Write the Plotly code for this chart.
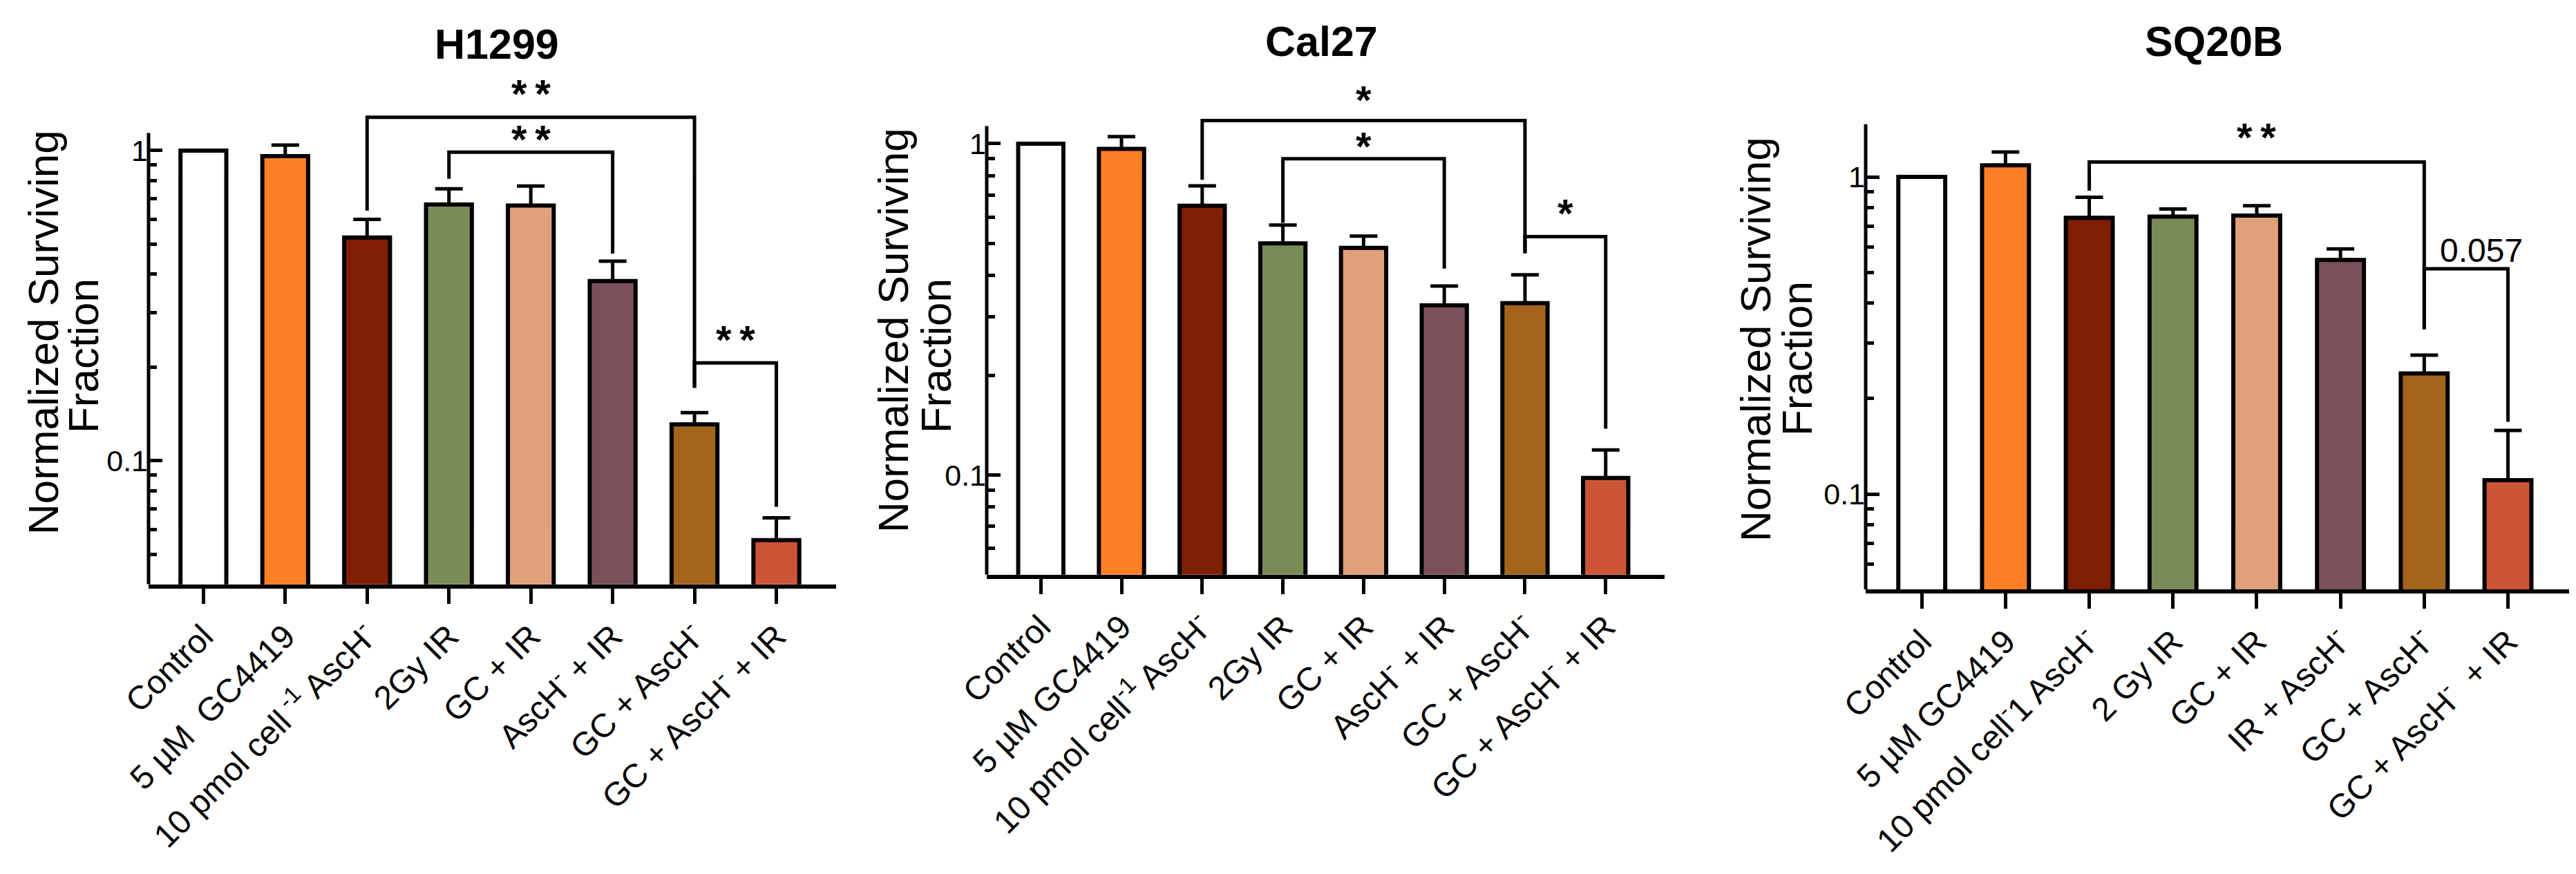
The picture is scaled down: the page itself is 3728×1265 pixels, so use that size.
import numpy as np
import plotly.graph_objects as go

W, H = 3728, 1265
FONT = 'Liberation Sans, Arial, sans-serif'

bar_colors = ['#FFFFFF', '#FF7F27', '#7F1E00', '#7B8B57', '#E0A07B', '#7A515B', '#A3641B', '#CC5535']

titles = ['H1299', 'Cal27', 'SQ20B']

# H1299
labels_h1299 = ['Control', '5 µM\u00a0 GC4419', '10 pmol cell<sup> -1</sup> AscH<sup>-</sup>', '2Gy IR', 'GC + IR',
                'AscH<sup>-</sup> + IR', 'GC + AscH<sup>-</sup>', 'GC + AscH<sup>-</sup> + IR']
sf_h1299 = [1.0, 0.96, 0.525, 0.67, 0.665, 0.38, 0.131, 0.0555]
sem_h1299 = [None, 0.082, 0.075, 0.083, 0.104, 0.06, 0.012, 0.010]
# (left bar, right bar, left end, top, right end)
brackets_h1299 = [(2, 6, 0.641, 1.28, 0.172), (3, 5, 0.811, 0.988, 0.466), (6, 7, 0.172, 0.207, 0.0711)]
marks_h1299 = [('**', 4, 1.55), ('**', 4, 1.10), ('**', 6.5, 0.249)]

# Cal27
labels_cal27 = ['Control', '5 µM GC4419', '10 pmol cell<sup>-1</sup> AscH<sup>-</sup>', '2Gy IR', 'GC + IR',
                'AscH<sup>-</sup> + IR', 'GC + AscH<sup>-</sup>', 'GC + AscH<sup>-</sup> + IR']
sf_cal27 = [1.0, 0.965, 0.65, 0.50, 0.485, 0.325, 0.33, 0.098]
sem_cal27 = [None, 0.085, 0.096, 0.068, 0.041, 0.047, 0.072, 0.021]
brackets_cal27 = [(2, 6, 0.778, 1.175, 0.467), (3, 5, 0.577, 0.901, 0.42), (6, 7, 0.467, 0.524, 0.138)]
marks_cal27 = [('*', 4, 1.37), ('*', 4, 0.995), ('*', 6.5, 0.625)]

# SQ20B
labels_sq20b = ['Control', '5 µM GC4419', '10 pmol cell<sup>-</sup>1 AscH<sup>-</sup>', '2 Gy IR', 'GC + IR',
                'IR + AscH<sup>-</sup>', 'GC + AscH<sup>-</sup>', 'GC + AscH<sup>-</sup>\u00a0 + IR']
sf_sq20b = [1.0, 1.088, 0.743, 0.749, 0.755, 0.547, 0.240, 0.1106]
sem_sq20b = [None, 0.11, 0.119, 0.043, 0.056, 0.046, 0.034, 0.048]
brackets_sq20b = [(2, 6, 0.904, 1.114, 0.331), (6, 7, 0.331, 0.513, 0.169)]
marks_sq20b = [('**', 4, 1.35), ('0.057', 6.68, 0.586)]

# panel placement in pixels: x left, x right, y pixel of 1.0, px per decade, axis bottom, axis top
boxes = [
    dict(x0=207, x1=1202, p1=210, dec=449, lo=0.04, hi=1.14, top=1.7, tx=711, ty=56,
         yt1=(54, 473), yt2=(112, 507)),
    dict(x0=1420, x1=2401, p1=200, dec=479.5, lo=0.05, hi=1.13, top=1.7, tx=1905, ty=52,
         yt1=(1284, 470), yt2=(1346, 507)),
    dict(x0=2692, x1=3710, p1=248, dec=459, lo=0.05, hi=1.466, top=1.7, tx=3196, ty=52,
         yt1=(2532, 483), yt2=(2592, 511)),
]


def add_panel(fig, i, title, labels, values, sems, brackets, marks, box):
    xa = 'x' if i == 0 else 'x%d' % (i + 1)
    ya = 'y' if i == 0 else 'y%d' % (i + 1)
    fig.add_trace(go.Bar(
        x=labels, y=values, xaxis=xa, yaxis=ya, width=0.56,
        marker=dict(color=bar_colors, line=dict(color='black', width=6)),
        error_y=dict(type='data', symmetric=False, array=sems, arrayminus=[0] * len(values),
                     color='black', thickness=5, width=20),
    ))
    for a, b, yl, yt, yr in brackets:
        fig.add_trace(go.Scatter(
            x=[labels[a], labels[a], labels[b], labels[b]], y=[yl, yt, yt, yr],
            xaxis=xa, yaxis=ya, mode='lines', line=dict(color='black', width=5),
            hoverinfo='skip'
        ))
    for txt, xm, ym in marks:
        if txt.startswith('*'):
            # tight box around the asterisks so that stacked labels do not collide
            fig.add_annotation(
                x=xm, y=np.log10(ym), xref=xa, yref=ya, text='<b>%s</b>' % '\u2009'.join(txt),
                showarrow=False, font=dict(family=FONT, size=58, color='black'), yshift=-2,
                height=46, valign='middle', borderpad=0
            )
        else:
            fig.add_annotation(
                x=xm, y=np.log10(ym), xref=xa, yref=ya, text=txt, showarrow=False,
                font=dict(family=FONT, size=48, color='black')
            )

    def px(v):
        return box['p1'] - box['dec'] * np.log10(v)

    ydom = [1 - px(box['lo']) / H, 1 - px(box['top']) / H]
    xdom = [box['x0'] / W, box['x1'] / W]
    n = 'xaxis' if i == 0 else 'xaxis%d' % (i + 1)
    m = 'yaxis' if i == 0 else 'yaxis%d' % (i + 1)
    fig.layout[n] = dict(
        domain=xdom, anchor=ya, type='category', range=[-0.67, 7.73], automargin=False,
        showline=True, linewidth=6, linecolor='black', showgrid=False, zeroline=False,
        ticks='outside', ticklen=22, tickwidth=5, tickcolor='black', tickangle=-45,
        tickfont=dict(family=FONT, size=48, color='black')
    )
    minor_vals = [v / 100 for v in range(2, 10) if v / 100 > box['lo']] + [v / 10 for v in range(2, 10)]
    fig.layout[m] = dict(
        domain=ydom, anchor=xa, type='log', range=[np.log10(box['lo']), np.log10(box['top'])],
        automargin=False, showline=False, showgrid=False, zeroline=False,
        tickvals=[0.1, 1], ticktext=['0.1', '1'],
        ticks='inside', ticklen=20, tickwidth=5, tickcolor='black',
        minor=dict(tickvals=minor_vals, ticks='inside', ticklen=12, tickwidth=5,
                   tickcolor='black', showgrid=False),
        tickfont=dict(family=FONT, size=43, color='black')
    )
    # left axis line stops short of the bracket space, GraphPad style
    fig.add_shape(type='line', xref=xa + ' domain', yref=ya, x0=0, x1=0,
                  y0=box['lo'], y1=box['hi'], line=dict(color='black', width=5))

    fig.add_annotation(x=box['tx'] / W, y=1 - box['ty'] / H, xref='paper', yref='paper',
                       xanchor='center', yanchor='middle',
                       text='<b>%s</b>' % title, showarrow=False,
                       font=dict(family=FONT, size=61, color='black'))
    for txt, key in [('Normalized Surviving', 'yt1'), ('Fraction', 'yt2')]:
        cx, cy = box[key]
        fig.add_annotation(x=cx / W, y=1 - cy / H, xref='paper', yref='paper', text=txt,
                           textangle=-90, showarrow=False, xanchor='center', yanchor='middle',
                           font=dict(family=FONT, size=62, color='black'))


fig = go.Figure()
panels = [
    (labels_h1299, sf_h1299, sem_h1299, brackets_h1299, marks_h1299),
    (labels_cal27, sf_cal27, sem_cal27, brackets_cal27, marks_cal27),
    (labels_sq20b, sf_sq20b, sem_sq20b, brackets_sq20b, marks_sq20b),
]
for i, (lab, val, sem, br, mk) in enumerate(panels):
    add_panel(fig, i, titles[i], lab, val, sem, br, mk, boxes[i])

fig.update_layout(
    width=W, height=H, autosize=False,
    margin=dict(l=0, r=0, t=0, b=0),
    paper_bgcolor='white', plot_bgcolor='white',
    showlegend=False,
    font=dict(family=FONT, color='black'),
)

fig.write_html("out.html")
